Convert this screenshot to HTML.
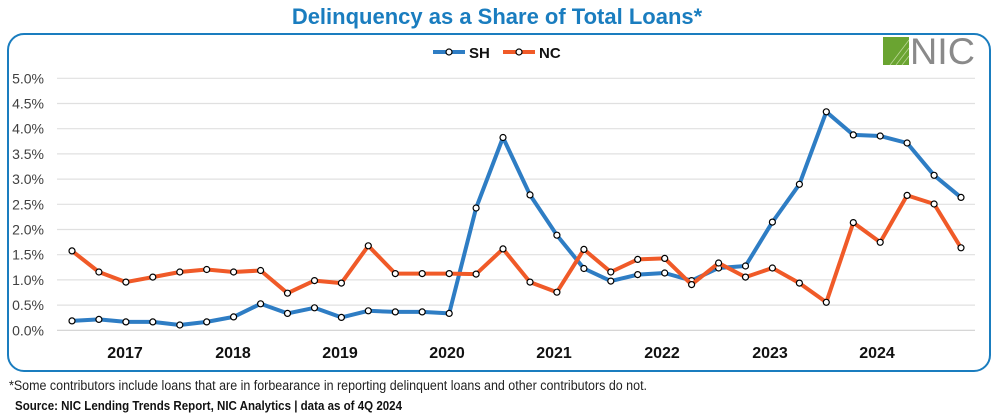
<!DOCTYPE html>
<html><head><meta charset="utf-8"><style>
body{margin:0;background:#fff;}
svg{display:block;font-family:"Liberation Sans",Arial,sans-serif;}
</style></head><body>
<svg width="994" height="420" viewBox="0 0 994 420" xmlns="http://www.w3.org/2000/svg">
<text x="497" y="24" text-anchor="middle" font-size="22" font-weight="bold" fill="#1a7dbf">Delinquency as a Share of Total Loans*</text>
<rect x="8" y="34" width="982" height="337" rx="16" ry="16" fill="none" stroke="#1a7dbf" stroke-width="2"/>
<g stroke="#e0e0e0" stroke-width="1.2">
<line x1="57" x2="975" y1="78.3" y2="78.3"/><line x1="57" x2="975" y1="103.5" y2="103.5"/><line x1="57" x2="975" y1="128.7" y2="128.7"/><line x1="57" x2="975" y1="153.9" y2="153.9"/><line x1="57" x2="975" y1="179.1" y2="179.1"/><line x1="57" x2="975" y1="204.3" y2="204.3"/><line x1="57" x2="975" y1="229.5" y2="229.5"/><line x1="57" x2="975" y1="254.7" y2="254.7"/><line x1="57" x2="975" y1="279.9" y2="279.9"/><line x1="57" x2="975" y1="305.1" y2="305.1"/><line x1="57" x2="975" y1="330.3" y2="330.3" stroke="#d0d0d0"/>
</g>
<g font-size="14" fill="#404040" text-anchor="end">
<text x="44" y="83.3">5.0%</text><text x="44" y="108.5">4.5%</text><text x="44" y="133.7">4.0%</text><text x="44" y="158.9">3.5%</text><text x="44" y="184.1">3.0%</text><text x="44" y="209.3">2.5%</text><text x="44" y="234.5">2.0%</text><text x="44" y="259.7">1.5%</text><text x="44" y="284.9">1.0%</text><text x="44" y="310.1">0.5%</text><text x="44" y="335.3">0.0%</text>
</g>
<g font-size="16" font-weight="bold" fill="#111" text-anchor="middle">
<text x="125" y="358">2017</text><text x="233" y="358">2018</text><text x="340" y="358">2019</text><text x="447" y="358">2020</text><text x="554" y="358">2021</text><text x="662" y="358">2022</text><text x="770" y="358">2023</text><text x="877" y="358">2024</text>
</g>
<line x1="433" x2="465" y1="52" y2="52" stroke="#2e7dc4" stroke-width="4"/>
<circle cx="449" cy="52" r="3" fill="#fff" stroke="#000" stroke-width="1.2"/>
<text x="469" y="58" font-size="15" font-weight="bold" fill="#111">SH</text>
<line x1="503" x2="535" y1="52" y2="52" stroke="#f05a28" stroke-width="4"/>
<circle cx="519" cy="52" r="3" fill="#fff" stroke="#000" stroke-width="1.2"/>
<text x="539" y="58" font-size="15" font-weight="bold" fill="#111">NC</text>
<rect x="883" y="37" width="26" height="28" fill="#6aa431"/>
<g stroke="#cfe3b0" stroke-width="0.8" opacity="0.8"><line x1="890" y1="65" x2="909" y2="40"/><line x1="896" y1="65" x2="909" y2="48"/><line x1="902" y1="65" x2="909" y2="56"/></g>
<text x="910" y="64" font-size="37" fill="#8a8a8a" textLength="65" lengthAdjust="spacingAndGlyphs">NIC</text>
<polyline fill="none" stroke="#2e7dc4" stroke-width="4" stroke-linejoin="round" points="72,320.9 98.9,319.4 125.9,321.9 152.8,321.9 179.8,325 206.7,321.9 233.6,316.9 260.6,303.8 287.5,313.4 314.5,307.8 341.4,317.4 368.3,310.8 395.3,311.9 422.2,311.9 449.2,313.4 476.1,208 503,137.5 530,194.9 556.9,235.2 583.9,268.5 610.8,281.1 637.7,274.6 664.7,273 691.6,280.6 718.6,268 745.5,266 772.4,222.1 799.4,184.3 826.3,111.8 853.3,134.9 880.2,136 907.1,143 934.1,175.3 961,197.4"/>
<g fill="#fff" stroke="#000" stroke-width="1.2">
<circle cx="72" cy="320.9" r="3"/><circle cx="98.9" cy="319.4" r="3"/><circle cx="125.9" cy="321.9" r="3"/><circle cx="152.8" cy="321.9" r="3"/><circle cx="179.8" cy="325" r="3"/><circle cx="206.7" cy="321.9" r="3"/><circle cx="233.6" cy="316.9" r="3"/><circle cx="260.6" cy="303.8" r="3"/><circle cx="287.5" cy="313.4" r="3"/><circle cx="314.5" cy="307.8" r="3"/><circle cx="341.4" cy="317.4" r="3"/><circle cx="368.3" cy="310.8" r="3"/><circle cx="395.3" cy="311.9" r="3"/><circle cx="422.2" cy="311.9" r="3"/><circle cx="449.2" cy="313.4" r="3"/><circle cx="476.1" cy="208" r="3"/><circle cx="503" cy="137.5" r="3"/><circle cx="530" cy="194.9" r="3"/><circle cx="556.9" cy="235.2" r="3"/><circle cx="583.9" cy="268.5" r="3"/><circle cx="610.8" cy="281.1" r="3"/><circle cx="637.7" cy="274.6" r="3"/><circle cx="664.7" cy="273" r="3"/><circle cx="691.6" cy="280.6" r="3"/><circle cx="718.6" cy="268" r="3"/><circle cx="745.5" cy="266" r="3"/><circle cx="772.4" cy="222.1" r="3"/><circle cx="799.4" cy="184.3" r="3"/><circle cx="826.3" cy="111.8" r="3"/><circle cx="853.3" cy="134.9" r="3"/><circle cx="880.2" cy="136" r="3"/><circle cx="907.1" cy="143" r="3"/><circle cx="934.1" cy="175.3" r="3"/><circle cx="961" cy="197.4" r="3"/>
</g>
<polyline fill="none" stroke="#f05a28" stroke-width="4" stroke-linejoin="round" points="72,250.9 98.9,272 125.9,282.1 152.8,277.1 179.8,272 206.7,269.5 233.6,272 260.6,270.5 287.5,293.2 314.5,280.6 341.4,283.1 368.3,245.8 395.3,273.6 422.2,273.6 449.2,273.6 476.1,274.1 503,248.9 530,282.1 556.9,292.2 583.9,249.4 610.8,272 637.7,259.4 664.7,258.4 691.6,284.6 718.6,263 745.5,277.1 772.4,268 799.4,283.1 826.3,302.3 853.3,222.6 880.2,242.3 907.1,195.4 934.1,204 961,247.8"/>
<g fill="#fff" stroke="#000" stroke-width="1.2">
<circle cx="72" cy="250.9" r="3"/><circle cx="98.9" cy="272" r="3"/><circle cx="125.9" cy="282.1" r="3"/><circle cx="152.8" cy="277.1" r="3"/><circle cx="179.8" cy="272" r="3"/><circle cx="206.7" cy="269.5" r="3"/><circle cx="233.6" cy="272" r="3"/><circle cx="260.6" cy="270.5" r="3"/><circle cx="287.5" cy="293.2" r="3"/><circle cx="314.5" cy="280.6" r="3"/><circle cx="341.4" cy="283.1" r="3"/><circle cx="368.3" cy="245.8" r="3"/><circle cx="395.3" cy="273.6" r="3"/><circle cx="422.2" cy="273.6" r="3"/><circle cx="449.2" cy="273.6" r="3"/><circle cx="476.1" cy="274.1" r="3"/><circle cx="503" cy="248.9" r="3"/><circle cx="530" cy="282.1" r="3"/><circle cx="556.9" cy="292.2" r="3"/><circle cx="583.9" cy="249.4" r="3"/><circle cx="610.8" cy="272" r="3"/><circle cx="637.7" cy="259.4" r="3"/><circle cx="664.7" cy="258.4" r="3"/><circle cx="691.6" cy="284.6" r="3"/><circle cx="718.6" cy="263" r="3"/><circle cx="745.5" cy="277.1" r="3"/><circle cx="772.4" cy="268" r="3"/><circle cx="799.4" cy="283.1" r="3"/><circle cx="826.3" cy="302.3" r="3"/><circle cx="853.3" cy="222.6" r="3"/><circle cx="880.2" cy="242.3" r="3"/><circle cx="907.1" cy="195.4" r="3"/><circle cx="934.1" cy="204" r="3"/><circle cx="961" cy="247.8" r="3"/>
</g>
<text x="9" y="390" font-size="13.5" fill="#222" textLength="638" lengthAdjust="spacingAndGlyphs">*Some contributors include loans that are in forbearance in reporting delinquent loans and other contributors do not.</text>
<text x="15" y="410" font-size="13" font-weight="bold" fill="#111" textLength="387" lengthAdjust="spacingAndGlyphs">Source: NIC Lending Trends Report, NIC Analytics | data as of 4Q 2024</text>
</svg>
</body></html>
